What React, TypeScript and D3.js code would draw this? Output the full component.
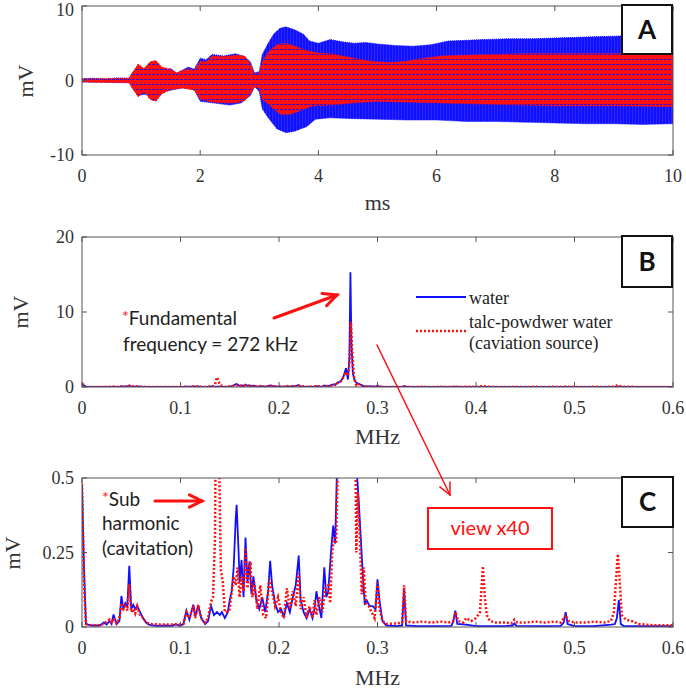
import React from "react";
import * as d3 from "d3";

// ---------- DATA ----------
// Panel A: signal envelopes (time ms, mV)
const waterUpper: [number, number][] = [
  [0, 0.25], [0.2, 0.3], [0.4, 0.2], [0.6, 0.35], [0.8, 0.3], [0.85, 1.0], [0.95, 2.0], [1.05, 1.5], [1.15, 2.3], [1.2, 2.6],
  [1.3, 2.0], [1.4, 1.2], [1.5, 1.6], [1.6, 1.0], [1.7, 1.4], [1.8, 1.8], [1.9, 1.5], [2.0, 3.0], [2.1, 2.8], [2.2, 3.5],
  [2.4, 3.3], [2.6, 3.6], [2.75, 3.2], [2.85, 2.5], [2.92, 1.0], [3.0, 1.2], [3.05, 3.5], [3.15, 5.0], [3.25, 6.3], [3.35, 7.0],
  [3.45, 7.2], [3.6, 6.8], [3.75, 6.2], [3.85, 5.3], [4.0, 5.0], [4.2, 5.5], [4.4, 5.2], [4.6, 5.0], [4.8, 5.1], [5.0, 4.9],
  [5.3, 4.7], [5.6, 4.6], [5.9, 4.8], [6.2, 5.3], [6.5, 5.4], [6.8, 5.5], [7.2, 5.6], [7.6, 5.6], [8.0, 5.7], [8.4, 5.8],
  [8.8, 5.9], [9.2, 6.0], [9.6, 5.9], [10, 5.8],
];
const waterLower: [number, number][] = [
  [0, -0.2], [0.8, -0.3], [0.85, -1.0], [0.95, -2.0], [1.1, -1.8], [1.2, -2.7], [1.3, -1.5], [1.5, -1.3], [1.7, -1.0], [1.9, -1.2],
  [2.0, -2.8], [2.2, -3.0], [2.5, -3.3], [2.7, -3.0], [2.85, -2.0], [2.92, -0.8], [3.0, -1.5], [3.05, -3.8], [3.15, -5.0], [3.3, -6.5],
  [3.45, -7.0], [3.6, -6.8], [3.8, -6.2], [3.95, -5.2], [4.2, -5.0], [4.5, -5.1], [5.0, -5.2], [5.5, -5.3], [6.0, -5.3], [6.5, -5.5],
  [7.0, -5.5], [7.5, -5.6], [8.0, -5.7], [8.5, -5.8], [9.0, -5.8], [9.5, -5.9], [10, -5.8],
];
const talcUpper: [number, number][] = [
  [0, 0.2], [0.8, 0.3], [0.85, 1.0], [0.95, 2.2], [1.05, 1.6], [1.15, 2.5], [1.25, 2.7], [1.35, 1.8], [1.5, 1.5], [1.6, 1.0],
  [1.8, 1.6], [1.9, 1.3], [2.0, 2.6], [2.1, 2.5], [2.2, 3.3], [2.4, 3.2], [2.6, 3.4], [2.75, 3.3], [2.85, 2.2], [2.92, 0.8],
  [3.0, 1.0], [3.05, 2.5], [3.15, 3.8], [3.3, 4.8], [3.45, 5.0], [3.6, 4.6], [3.8, 4.0], [4.0, 3.7], [4.2, 3.6], [4.4, 3.3],
  [4.6, 3.0], [4.8, 2.7], [5.0, 2.5], [5.2, 2.4], [5.5, 2.6], [5.8, 3.0], [6.1, 3.3], [6.5, 3.4], [7.0, 3.5], [7.5, 3.6],
  [8.0, 3.6], [8.5, 3.6], [9.0, 3.6], [9.5, 3.6], [10, 3.6],
];
const talcLower: [number, number][] = [
  [0, -0.2], [0.8, -0.3], [0.85, -1.0], [0.95, -2.2], [1.05, -1.5], [1.15, -2.5], [1.25, -2.8], [1.35, -1.8], [1.5, -1.2], [1.7, -1.0],
  [1.9, -1.3], [2.0, -2.5], [2.2, -2.9], [2.4, -3.0], [2.6, -3.0], [2.75, -2.7], [2.85, -1.8], [2.92, -0.8], [3.0, -1.0], [3.05, -2.5],
  [3.2, -3.5], [3.35, -4.5], [3.5, -4.6], [3.7, -4.0], [3.9, -3.4], [4.2, -3.3], [4.6, -3.0], [5.0, -2.8], [5.5, -2.9], [6.0, -3.0],
  [6.5, -3.1], [7.0, -3.2], [7.5, -3.3], [8.0, -3.4], [9.0, -3.4], [10, -3.5],
];

// Panels B & C: spectra (MHz, mV)
const waterSpectrum: [number, number][] = [
  [0, 0.48], [0.002, 0.2], [0.004, 0.01], [0.01, 0.005], [0.018, 0.005], [0.022, 0.015], [0.025, 0.008], [0.028, 0.02], [0.03, 0.01], [0.032, 0.042],
  [0.035, 0.01], [0.038, 0.02], [0.04, 0.104], [0.042, 0.06], [0.044, 0.08], [0.046, 0.07], [0.048, 0.205], [0.05, 0.06], [0.052, 0.075], [0.054, 0.06],
  [0.056, 0.07], [0.059, 0.05], [0.062, 0.03], [0.065, 0.015], [0.068, 0.008], [0.075, 0.004], [0.085, 0.005], [0.092, 0.004], [0.095, 0.01], [0.099, 0.004],
  [0.103, 0.01], [0.106, 0.055], [0.109, 0.025], [0.113, 0.075], [0.115, 0.035], [0.118, 0.072], [0.121, 0.03], [0.125, 0.01], [0.128, 0.02], [0.131, 0.07],
  [0.134, 0.04], [0.137, 0.05], [0.14, 0.04], [0.142, 0.05], [0.145, 0.03], [0.148, 0.05], [0.15, 0.09], [0.152, 0.12], [0.154, 0.2], [0.156, 0.36],
  [0.157, 0.41], [0.159, 0.25], [0.16, 0.15], [0.162, 0.225], [0.164, 0.1], [0.166, 0.3], [0.168, 0.15], [0.17, 0.22], [0.172, 0.11], [0.174, 0.17],
  [0.177, 0.09], [0.18, 0.06], [0.183, 0.1], [0.186, 0.05], [0.189, 0.12], [0.191, 0.222], [0.193, 0.14], [0.196, 0.08], [0.199, 0.05], [0.202, 0.06],
  [0.205, 0.035], [0.208, 0.08], [0.211, 0.05], [0.214, 0.1], [0.217, 0.14], [0.22, 0.24], [0.222, 0.09], [0.225, 0.05], [0.228, 0.03], [0.231, 0.06],
  [0.234, 0.03], [0.236, 0.06], [0.238, 0.12], [0.24, 0.08], [0.243, 0.03], [0.246, 0.2], [0.248, 0.1], [0.25, 0.12], [0.253, 0.26], [0.255, 0.34],
  [0.257, 0.28], [0.259, 0.55], [0.262, 0.7], [0.265, 1.2], [0.268, 2.5], [0.27, 1.0], [0.2715, 4], [0.2725, 15.3], [0.2735, 6], [0.275, 1.8],
  [0.277, 0.8], [0.279, 0.52], [0.281, 0.42], [0.283, 0.3], [0.285, 0.18], [0.287, 0.08], [0.289, 0.09], [0.292, 0.07], [0.295, 0.07], [0.298, 0.06],
  [0.3, 0.16], [0.302, 0.09], [0.305, 0.02], [0.309, 0.005], [0.32, 0.003], [0.325, 0.005], [0.327, 0.13], [0.329, 0.005], [0.34, 0.003], [0.36, 0.003],
  [0.375, 0.004], [0.377, 0.02], [0.379, 0.055], [0.381, 0.01], [0.39, 0.008], [0.4, 0.003], [0.43, 0.003], [0.437, 0.005], [0.439, 0.012], [0.441, 0.004],
  [0.47, 0.003], [0.486, 0.004], [0.489, 0.015], [0.491, 0.05], [0.493, 0.01], [0.5, 0.003], [0.52, 0.003], [0.537, 0.008], [0.541, 0.01], [0.543, 0.03],
  [0.545, 0.09], [0.547, 0.01], [0.55, 0.003], [0.6, 0.003],
];
const talcSpectrum: [number, number][] = [
  [0, 0.48], [0.002, 0.15], [0.004, 0.01], [0.01, 0.005], [0.018, 0.006], [0.022, 0.01], [0.025, 0.02], [0.028, 0.025], [0.03, 0.012], [0.032, 0.03],
  [0.035, 0.012], [0.038, 0.03], [0.04, 0.08], [0.042, 0.06], [0.044, 0.07], [0.046, 0.055], [0.048, 0.143], [0.05, 0.05], [0.052, 0.06], [0.054, 0.045],
  [0.056, 0.07], [0.059, 0.04], [0.062, 0.03], [0.065, 0.015], [0.07, 0.01], [0.08, 0.008], [0.09, 0.008], [0.1, 0.008], [0.103, 0.01], [0.106, 0.05],
  [0.109, 0.03], [0.113, 0.07], [0.115, 0.03], [0.118, 0.075], [0.121, 0.03], [0.125, 0.015], [0.128, 0.03], [0.131, 0.085], [0.133, 0.1], [0.135, 0.3],
  [0.136, 0.8], [0.137, 1.3], [0.1385, 0.9], [0.1395, 0.5], [0.141, 0.19], [0.143, 0.15], [0.145, 0.05], [0.148, 0.05], [0.15, 0.06], [0.152, 0.12],
  [0.154, 0.17], [0.156, 0.14], [0.158, 0.2], [0.16, 0.1], [0.162, 0.17], [0.164, 0.12], [0.166, 0.265], [0.168, 0.13], [0.171, 0.22], [0.173, 0.1],
  [0.175, 0.15], [0.178, 0.06], [0.181, 0.14], [0.184, 0.04], [0.187, 0.03], [0.19, 0.16], [0.193, 0.12], [0.196, 0.07], [0.199, 0.1], [0.202, 0.05],
  [0.205, 0.03], [0.208, 0.13], [0.211, 0.06], [0.214, 0.12], [0.217, 0.07], [0.22, 0.18], [0.222, 0.06], [0.225, 0.1], [0.228, 0.03], [0.231, 0.07],
  [0.234, 0.03], [0.236, 0.09], [0.238, 0.04], [0.241, 0.1], [0.244, 0.05], [0.247, 0.13], [0.25, 0.14], [0.252, 0.08], [0.254, 0.25], [0.256, 0.3],
  [0.258, 0.28], [0.26, 0.6], [0.263, 0.8], [0.266, 1.5], [0.268, 2.0], [0.27, 1.5], [0.2715, 3], [0.273, 8.7], [0.2745, 4.3], [0.276, 1.5],
  [0.2775, 0.6], [0.2785, 0.25], [0.28, 0.45], [0.282, 0.3], [0.284, 0.11], [0.286, 0.2], [0.288, 0.08], [0.291, 0.07], [0.294, 0.05], [0.297, 0.03],
  [0.3, 0.148], [0.302, 0.06], [0.305, 0.02], [0.31, 0.01], [0.32, 0.012], [0.325, 0.015], [0.327, 0.14], [0.329, 0.02], [0.335, 0.015], [0.345, 0.018],
  [0.355, 0.015], [0.365, 0.018], [0.372, 0.015], [0.377, 0.02], [0.379, 0.05], [0.382, 0.02], [0.387, 0.015], [0.39, 0.03], [0.395, 0.02], [0.4, 0.03],
  [0.404, 0.05], [0.406, 0.15], [0.407, 0.204], [0.409, 0.1], [0.411, 0.04], [0.414, 0.02], [0.42, 0.015], [0.43, 0.015], [0.436, 0.012], [0.439, 0.025],
  [0.442, 0.015], [0.45, 0.015], [0.46, 0.018], [0.47, 0.015], [0.48, 0.018], [0.486, 0.015], [0.488, 0.025], [0.491, 0.04], [0.494, 0.02], [0.5, 0.015],
  [0.51, 0.015], [0.52, 0.018], [0.53, 0.015], [0.537, 0.02], [0.54, 0.05], [0.542, 0.15], [0.544, 0.245], [0.546, 0.15], [0.548, 0.04], [0.552, 0.025],
  [0.558, 0.02], [0.565, 0.01], [0.58, 0.006], [0.6, 0.006],
];

const ticksA_x = [0, 2, 4, 6, 8, 10];
const ticksA_y = [-10, 0, 10];
const ticksF_x = [0, 0.1, 0.2, 0.3, 0.4, 0.5, 0.6];
const ticksB_y = [0, 10, 20];
const ticksC_y = [0, 0.25, 0.5];
const legendLabels = ["water", "talc-powdwer water", "(caviation source)"];

// ---------- LAYOUT ----------
const L = 82, R = 673;
const BLUE = "#1010ff";
const RED = "#ff1010";
const AXC = "#555";
const SERIF = "'Liberation Serif', 'Times New Roman', serif";
const SANS = "Lato, 'Open Sans', sans-serif";

type Scale = d3.ScaleLinear<number, number>;

function Axes({ x, y, xt, yt, yfmt, xfmt, id }: { x: Scale; y: Scale; xt: number[]; yt: number[]; yfmt: (v: number) => string; xfmt: (v: number) => string; id: string }) {
  const [x0, x1] = x.range();
  const [y0, y1] = y.range();
  const tl = 5;
  return (
    <g>
      <rect x={x0} y={y1} width={x1 - x0} height={y0 - y1} fill="none" stroke={AXC} strokeWidth={1} />
      {xt.map((t) => (
        <g key={id + "x" + t}>
          <line x1={x(t)} x2={x(t)} y1={y0} y2={y0 - tl} stroke={AXC} />
          <line x1={x(t)} x2={x(t)} y1={y1} y2={y1 + tl} stroke={AXC} />
          <text x={x(t)} y={y0 + 27} textAnchor="middle" fontFamily={SERIF} fontSize={18} fill="#333">{xfmt(t)}</text>
        </g>
      ))}
      {yt.map((t) => (
        <g key={id + "y" + t}>
          <line x1={x0} x2={x0 + tl} y1={y(t)} y2={y(t)} stroke={AXC} />
          <line x1={x1} x2={x1 - tl} y1={y(t)} y2={y(t)} stroke={AXC} />
          <text x={x0 - 8} y={Math.max(y(t) + 6, 16)} textAnchor="end" fontFamily={SERIF} fontSize={18} fill="#333">{yfmt(t)}</text>
        </g>
      ))}
    </g>
  );
}

function LabelBox({ x0, y0, w, h, label }: { x0: number; y0: number; w: number; h: number; label: string }) {
  return (
    <g>
      <rect x={x0} y={y0} width={w} height={h} fill="#fff" stroke="#111" strokeWidth={2} />
      <text x={x0 + w / 2} y={y0 + h / 2 + 9} textAnchor="middle" fontFamily={SANS} fontWeight="bold" fontSize={26} fill="#111">{label}</text>
    </g>
  );
}

function Arrow({ x1, y1, x2, y2, w, head }: { x1: number; y1: number; x2: number; y2: number; w: number; head: number }) {
  const a = Math.atan2(y2 - y1, x2 - x1);
  const sp = 0.45;
  const h1 = [x2 - head * Math.cos(a - sp), y2 - head * Math.sin(a - sp)];
  const h2 = [x2 - head * Math.cos(a + sp), y2 - head * Math.sin(a + sp)];
  return (
    <g stroke={RED} strokeWidth={w} fill="none" strokeLinecap="round">
      <line x1={x1} y1={y1} x2={x2} y2={y2} />
      <polyline points={`${h1[0]},${h1[1]} ${x2},${y2} ${h2[0]},${h2[1]}`} />
    </g>
  );
}

function interp(arr: [number, number][], t: number) {
  const i = d3.bisector((d: [number, number]) => d[0]).left(arr, t);
  if (i <= 0) return arr[0][1];
  if (i >= arr.length) return arr[arr.length - 1][1];
  const [t0, v0] = arr[i - 1], [t1, v1] = arr[i];
  return t1 === t0 ? v1 : v0 + ((v1 - v0) * (t - t0)) / (t1 - t0);
}

export default function App() {
  const xA = d3.scaleLinear().domain([0, 10]).range([L, R]);
  const yA = d3.scaleLinear().domain([-10, 10]).range([155, 6]);
  const band = (up: [number, number][], lo: [number, number][]) => {
    const times = Array.from(new Set([...up.map((d) => d[0]), ...lo.map((d) => d[0])])).sort((a, b) => a - b);
    return d3
      .area<number>()
      .x((t) => xA(t))
      .y0((t) => yA(interp(lo, t)))
      .y1((t) => yA(interp(up, t)))(times) as string;
  };

  const xF = d3.scaleLinear().domain([0, 0.6]).range([L, R]);
  const yB = d3.scaleLinear().domain([0, 20]).range([387, 237]);
  const yC = d3.scaleLinear().domain([0, 0.5]).range([627, 478]);
  const lineB = d3.line<[number, number]>().x((d) => xF(d[0])).y((d) => yB(d[1]));
  const lineC = d3.line<[number, number]>().x((d) => xF(d[0])).y((d) => yC(d[1]));

  const fmtF = (v: number) => (v === 0 ? "0" : d3.format(".1f")(v));
  const fmtInt = (v: number) => String(v);
  const fmtC = (v: number) => (v === 0 ? "0" : String(v));

  return (
    <svg width={686} height={690} style={{ position: "absolute", left: 0, top: 0, background: "#fff" }}>
      <defs>
        <clipPath id="clipA"><rect x={L} y={6} width={R - L} height={149} /></clipPath>
        <clipPath id="clipB"><rect x={L} y={237} width={R - L} height={150} /></clipPath>
        <clipPath id="clipC"><rect x={L} y={478} width={R - L} height={149} /></clipPath>
        <pattern id="redHatch" width={4} height={5} patternUnits="userSpaceOnUse">
          <rect width={4} height={5} fill={RED} />
          <rect x={0} y={4} width={3} height={1} fill={BLUE} opacity={0.85} />
        </pattern>
        <pattern id="blueHatch" width={3} height={6} patternUnits="userSpaceOnUse">
          <rect width={3} height={6} fill={BLUE} />
          <rect x={2} y={0} width={1} height={6} fill="#2a2aff" />
        </pattern>
      </defs>
      <rect width={686} height={690} fill="#fff" />

      {/* Panel A */}
      <g clipPath="url(#clipA)">
        <path d={band(waterUpper, waterLower)} fill="url(#blueHatch)" stroke={BLUE} strokeWidth={1} strokeDasharray="1 1" />
        <path d={band(talcUpper, talcLower)} fill="url(#redHatch)" stroke={RED} strokeWidth={1} strokeDasharray="1.5 1.5" />
      </g>
      <Axes x={xA} y={yA} xt={ticksA_x} yt={ticksA_y} yfmt={fmtInt} xfmt={fmtInt} id="A" />
      <text transform="translate(33,81) rotate(-90)" textAnchor="middle" fontFamily={SERIF} fontSize={22} fill="#333">mV</text>
      <text x={(L + R) / 2} y={210} textAnchor="middle" fontFamily={SERIF} fontSize={22} fill="#333">ms</text>
      <LabelBox x0={622} y0={5} w={50} h={49} label="A" />

      {/* Panel B */}
      <g clipPath="url(#clipB)">
        <path d={lineB(waterSpectrum) as string} fill="none" stroke={BLUE} strokeWidth={1.8} />
        <path d={lineB(talcSpectrum) as string} fill="none" stroke={RED} strokeWidth={2.5} strokeDasharray="2 2" />
      </g>
      <Axes x={xF} y={yB} xt={ticksF_x} yt={ticksB_y} yfmt={fmtInt} xfmt={fmtF} id="B" />
      <text transform="translate(28,312) rotate(-90)" textAnchor="middle" fontFamily={SERIF} fontSize={22} fill="#333">mV</text>
      <text x={(L + R) / 2} y={444} textAnchor="middle" fontFamily={SERIF} fontSize={22} fill="#333">MHz</text>
      <LabelBox x0={622} y0={236} w={50} h={51} label="B" />
      <line x1={416} x2={466} y1={297} y2={297} stroke={BLUE} strokeWidth={2} />
      <line x1={416} x2={466} y1={331} y2={331} stroke={RED} strokeWidth={2.5} strokeDasharray="2 2" />
      <text x={469} y={304} fontFamily={SERIF} fontSize={18} fill="#222">{legendLabels[0]}</text>
      <text x={469} y={328} fontFamily={SERIF} fontSize={18} fill="#222">{legendLabels[1]}</text>
      <text x={469} y={349} fontFamily={SERIF} fontSize={18} fill="#222">{legendLabels[2]}</text>
      <text x={122} y={325} fontFamily={SANS} fontSize={19} fill="#222">
        <tspan fill={RED} fontSize={16} dy={-3}>*</tspan>
        <tspan dy={3}>Fundamental</tspan>
      </text>
      <text x={123} y={351} fontFamily={SANS} fontSize={19} fill="#222">frequency = 272 kHz</text>
      <Arrow x1={274} y1={318} x2={337} y2={295} w={3} head={15} />

      {/* Panel C */}
      <g clipPath="url(#clipC)">
        <path d={lineC(waterSpectrum) as string} fill="none" stroke={BLUE} strokeWidth={1.8} />
        <path d={lineC(talcSpectrum) as string} fill="none" stroke={RED} strokeWidth={2.5} strokeDasharray="2 2" />
      </g>
      <Axes x={xF} y={yC} xt={ticksF_x} yt={ticksC_y} yfmt={fmtC} xfmt={fmtF} id="C" />
      <text transform="translate(20,553) rotate(-90)" textAnchor="middle" fontFamily={SERIF} fontSize={22} fill="#333">mV</text>
      <text x={(L + R) / 2} y={685} textAnchor="middle" fontFamily={SERIF} fontSize={22} fill="#333">MHz</text>
      <LabelBox x0={622} y0={477} w={51} h={50} label="C" />
      <text x={102} y={506} fontFamily={SANS} fontSize={19} fill="#222">
        <tspan fill={RED} fontSize={16} dy={-3}>*</tspan>
        <tspan dy={3}>Sub</tspan>
      </text>
      <text x={102} y={530} fontFamily={SANS} fontSize={19} fill="#222">harmonic</text>
      <text x={102} y={555} fontFamily={SANS} fontSize={19} fill="#222">(cavitation)</text>
      <Arrow x1={155} y1={501} x2={202} y2={501} w={3} head={14} />
      <rect x={428} y={508} width={124} height={41} fill="#fff" stroke={RED} strokeWidth={2} />
      <text x={490} y={535} textAnchor="middle" fontFamily={SANS} fontSize={20} fill={RED}>view x40</text>

      <Arrow x1={377} y1={345} x2={450} y2={495} w={1.5} head={13} />
    </svg>
  );
}
